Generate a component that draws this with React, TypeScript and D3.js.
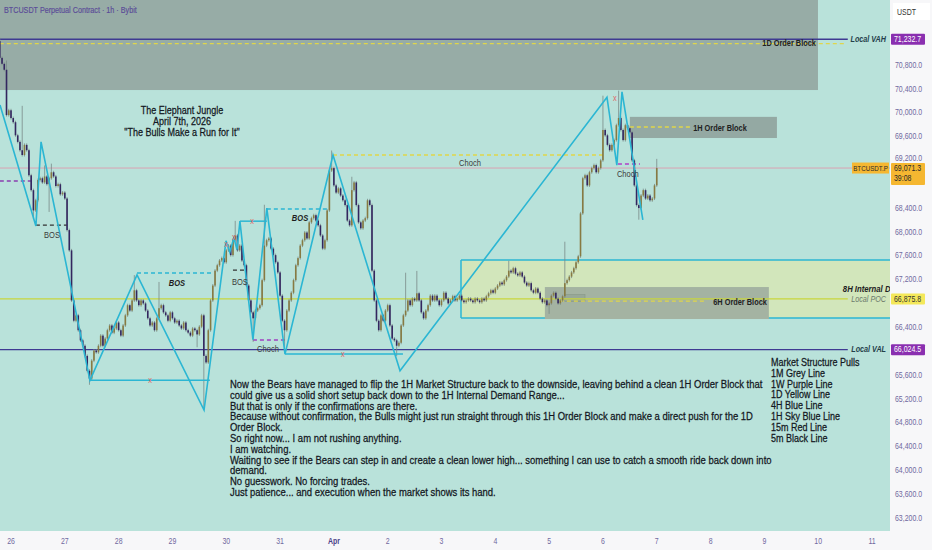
import React from "react";
import * as d3 from "d3";

const FONT = "'Liberation Sans',Arial,sans-serif";
const SX = 0.82; // condensed look

// ---------- data ----------
const START_UTC = Date.UTC(2026, 2, 25, 19);
const HOUR_MS = 3600000;
const FIRST_OPEN = 71200;
const CLOSES = [
  70920, 70820, 70720, 69960, 70040, 69910, 69840, 69620, 69510, 69370,
  69290, 69460, 69370, 68950, 68700, 68360, 68530, 68870, 68900, 68830,
  68930, 68800, 68900, 69000, 68930, 68770, 68800, 68630, 68660, 68560,
  68030, 67690, 66850, 66510, 66600, 66350, 66180, 66090, 65920, 65670,
  65540, 65840, 66010, 65980, 66090, 66260, 66090, 66210, 66350, 66430,
  66310, 66380, 66480, 66350, 66260, 66430, 66600, 66770, 66680, 66850,
  67020, 66850, 66770, 66850, 66800, 66680, 66550, 66430, 66480, 66350,
  66550, 66720, 66770, 66650, 66600, 66510, 66650, 66550, 66480, 66510,
  66430, 66380, 66480, 66350, 66310, 66260, 66380, 66350, 66280, 66410,
  66600, 65920, 65810, 66350, 66850, 67100, 67350, 67440, 67520, 67560,
  67490, 67690, 67770, 67610, 67860, 67940, 67690, 67770, 67520, 67440,
  67100, 66850, 66650, 66550, 66680, 66720, 66770, 67190, 67770, 67860,
  67890, 67720, 67610, 67490, 67320, 66930, 66510, 66350, 66680, 66850,
  66980, 67190, 67440, 67560, 67770, 67860, 67990, 67890, 68160, 68230,
  68280, 68190, 68110, 67940, 67720, 67860, 68360, 69030, 69070, 68780,
  68660, 68730, 68610, 68530, 68450, 68190, 68110, 68700, 68830, 68450,
  68160, 68060, 68190, 68230, 68530, 68450, 67350, 66850, 66510, 66350,
  66600, 66510, 66680, 66770, 66430, 66210, 66180, 66090, 66140, 66430,
  66600, 66680, 66850, 66770, 66880, 66850, 66970, 66850, 66650, 66550,
  66680, 66770, 66930, 66850, 66930, 66850, 66770, 66850, 66980, 66880,
  66800, 66850, 66920, 66850, 66880, 66930, 66850, 66820, 66850, 66880,
  66850, 66820, 66880, 66850, 66820, 66880, 66850, 66920, 66970, 67020,
  66980, 67050, 67100, 67150, 67120, 67190, 67250, 67350, 67320, 67390,
  67300, 67270, 67320, 67250, 67150, 67100, 67140, 67020, 66980, 67050,
  66980, 66880, 66820, 66850, 66770, 66800, 66930, 66980, 66880, 66800,
  66850, 66920, 67140, 67190, 67250, 67320, 67390, 67490, 67590, 68310,
  68900, 68950, 68780, 69000, 69070, 69120, 69000, 69070, 69200, 69710,
  69620, 69460, 69370, 69460, 69540, 69790, 69910, 69710, 69540, 69790,
  69740, 69670, 69200, 68780, 68450, 68400, 68610, 68700, 68560, 68610,
  68530, 68560, 68780, 69071.3,
];
const WICK_HIGHS: [number, number][] = [
  [0, 71232], [3, 70850], [10, 70090], [20, 69090], [23, 69120], [60, 67250],
  [71, 67135], [105, 68160], [118, 68430], [148, 69340], [157, 68900],
  [181, 67290], [186, 67320], [227, 67490], [252, 67810], [269, 70260],
  [276, 70345], [293, 69200],
];
const WICK_LOWS: [number, number][] = [
  [15, 68240], [22, 68360], [40, 65460], [88, 66090], [91, 65040], [113, 66180],
  [127, 66010], [177, 65940], [245, 66650], [285, 68230],
];

const PRICE_TICKS = [
  70800, 70400, 70000, 69600, 69200, 68800, 68400, 68000, 67600, 67200,
  66800, 66400, 66000, 65600, 65200, 64800, 64400, 64000, 63600, 63200,
];
const DAY_TICK_DATES: [number, number][] = [
  [2, 26], [2, 27], [2, 28], [2, 29], [2, 30], [2, 31], [3, 1], [3, 2], [3, 3],
  [3, 4], [3, 5], [3, 6], [3, 7], [3, 8], [3, 9], [3, 10], [3, 11],
];
const DAY_TICK_LABELS = [
  "26", "27", "28", "29", "30", "31", "Apr", "2", "3", "4", "5", "6", "7", "8", "9", "10", "11",
];

const LOCAL_VAH = 71232.7;
const LOCAL_POC = 66875.8;
const LOCAL_VAL = 66024.5;
const LAST_PRICE = 69071.3;
const YELLOW_1D = 71160;

// swing structure, [bar index, price]
const ZIGZAG: [number, number][] = [
  [0.1, 70130], [16.1, 68100], [18.4, 69510], [40.2, 65510], [61.2, 67280],
  [91.1, 65010], [100.9, 67850], [102.6, 67660], [104.4, 67900], [105.8, 67700],
  [107.1, 68180], [112.9, 66190], [119.1, 68400], [127.2, 65950], [148.6, 69290],
  [178.5, 65670], [270.8, 70260], [275.2, 69120], [277.5, 70350], [286.8, 68200],
];
const SWEPT_LEVELS: { from: number; to: number; price: number; mark: number }[] = [
  { from: 40.2, to: 93.7, price: 65510, mark: 67 },
  { from: 127.2, to: 179.8, price: 65950, mark: 153 },
  { from: 107.1, to: 119.1, price: 68180, mark: 112.5 },
];
const EXTRA_MARKS: [number, number][] = [[100.9, 67800], [104.4, 67915], [274.3, 70250]];

const DASHED: { from: number; to: number; price: number; color: string }[] = [
  { from: 0, to: 376.9, price: YELLOW_1D, color: "#e0d64a" },
  { from: 148.6, to: 269, price: 69290, color: "#e0d64a" },
  { from: 281, to: 307.8, price: 69760, color: "#e0d64a" },
  { from: 249.8, to: 314.5, price: 66840, color: "#e0d64a" },
  { from: 61.2, to: 95.1, price: 67310, color: "#2bb6d3" },
  { from: 119.1, to: 147.2, price: 68384, color: "#2bb6d3" },
  { from: 0, to: 14.8, price: 68854, color: "#8a3fb0" },
  { from: 112.9, to: 127.2, price: 66186, color: "#a040c0" },
  { from: 275.7, to: 285.5, price: 69139, color: "#b040c8" },
  { from: 16.1, to: 30, price: 68115, color: "#333333" },
  { from: 104, to: 109.3, price: 67360, color: "#333333" },
];

const STRUCT_LABELS: { text: string; at: number; price: number; bold: boolean }[] = [
  { text: "BOS", at: 23.3, price: 67948, bold: false },
  { text: "BOS", at: 79, price: 67142, bold: true },
  { text: "BOS", at: 107.1, price: 67159, bold: false },
  { text: "BOS", at: 133.9, price: 68233, bold: true },
  { text: "Choch", at: 209.7, price: 69156, bold: false },
  { text: "Choch", at: 119.6, price: 66035, bold: false },
  { text: "Choch", at: 280.1, price: 68971, bold: false },
];

const TITLE_LINES = ["The Elephant Jungle", "April 7th, 2026", "\"The Bulls Make a Run for It\""];
const NOTE_LINES = [
  "Now the Bears have managed to flip the 1H Market Structure back to the downside, leaving behind a clean 1H Order Block that",
  "could give us a solid short setup back down to the 1H Internal Demand Range...",
  "But that is only if the confirmations are there.",
  "Because without confirmation, the Bulls might just run straight through this 1H Order Block and make a direct push for the 1D",
  "Order Block.",
  "So right now... I am not rushing anything.",
  "I am watching.",
  "Waiting to see if the Bears can step in and create a clean lower high... something I can use to catch a smooth ride back down into",
  "demand.",
  "No guesswork. No forcing trades.",
  "Just patience... and execution when the market shows its hand.",
];
const LEGEND_LINES = [
  "Market Structure Pulls", "1M Grey Line", "1W Purple Line", "1D Yellow Line",
  "4H Blue Line", "1H Sky Blue Line", "15m Red Line", "5m Black Line",
];

// ---------- layout ----------
const W = 932;
const H = 550;
const PLOT_R = 890;
const PLOT_B = 531;

const x = d3
  .scaleUtc()
  .domain([new Date(Date.UTC(2026, 2, 26)), new Date(Date.UTC(2026, 3, 11))])
  .range([11, 872]);
const y = d3.scaleLinear().domain([70800, 63200]).range([65, 518]);
const bx = (i: number) => x(new Date(START_UTC + i * HOUR_MS));

const fmt = d3.format(",.1f");

type TProps = {
  x: number;
  y: number;
  size: number;
  anchor?: "start" | "middle" | "end";
  weight?: string;
  italic?: boolean;
  fill?: string;
  mid?: boolean;
  stroke?: number;
  sx?: number;
  children: React.ReactNode;
};
function T({ x: tx, y: ty, size, anchor = "start", weight = "normal", italic = false, fill = "#131722", mid = false, stroke = 0, sx = SX, children }: TProps) {
  return (
    <text
      transform={`translate(${tx},${ty}) scale(${sx},1)`}
      textAnchor={anchor}
      dominantBaseline={mid ? "central" : "auto"}
      fontSize={size}
      fontWeight={weight}
      fontStyle={italic ? "italic" : "normal"}
      fill={fill}
      stroke={stroke ? fill : "none"}
      strokeWidth={stroke}
      fontFamily={FONT}
    >
      {children}
    </text>
  );
}

export default function App() {
  const hiMap = new Map(WICK_HIGHS);
  const loMap = new Map(WICK_LOWS);
  const candles = CLOSES.map((c, i) => {
    const o = i === 0 ? FIRST_OPEN : CLOSES[i - 1];
    const h = Math.max(o, c, hiMap.get(i) ?? -Infinity);
    const l = Math.min(o, c, loMap.get(i) ?? Infinity);
    return { i, o, c, h, l };
  });
  const zig = d3
    .line<[number, number]>()
    .x((d) => bx(d[0]))
    .y((d) => y(d[1]))(ZIGZAG);

  const cyan = "#2bb6d3";
  const boxTop = 72000;
  const levelPrices = [LOCAL_VAH, LOCAL_POC, LOCAL_VAL];
  const lastTop = y(LAST_PRICE) - 5;
  const lastBot = y(LAST_PRICE) + 17;
  const visibleTicks = PRICE_TICKS.filter(
    (p) => levelPrices.every((lp) => Math.abs(y(p) - y(lp)) > 6) && !(y(p) > lastTop && y(p) < lastBot + 4)
  );

  const priceBox = (p: number, fill: string, color: string) => (
    <g key={"pb" + p}>
      <rect x={891} y={y(p) - 5.5} width={34} height={11} fill={fill} rx={1} />
      <T x={894} y={y(p)} size={8.5} fill={color} mid>{fmt(p)}</T>
    </g>
  );

  return (
    <svg width={W} height={H} style={{ position: "absolute", left: 0, top: 0 }} fontFamily={FONT}>
      <defs>
        <clipPath id="plot">
          <rect x={0} y={0} width={PLOT_R} height={PLOT_B} />
        </clipPath>
      </defs>
      <rect x={0} y={0} width={W} height={H} fill="#b9e2da" />
      <g clipPath="url(#plot)">
        {/* 1D order block */}
        <rect x={bx(0) - 2} y={y(boxTop)} width={bx(364.9) - bx(0) + 2} height={y(70380) - y(boxTop)} fill="#97aca6" />
        {/* 8H internal demand */}
        <rect x={bx(205.7)} y={y(67530)} width={PLOT_R - bx(205.7) + 10} height={y(66555) - y(67530)} fill="#d2e6bb" />
        <line x1={bx(205.7)} x2={PLOT_R} y1={y(67530)} y2={y(67530)} stroke={cyan} strokeWidth={1.5} />
        <line x1={bx(205.7)} x2={PLOT_R} y1={y(66555)} y2={y(66555)} stroke={cyan} strokeWidth={1.5} />
        <line x1={bx(205.7)} x2={bx(205.7)} y1={y(67530)} y2={y(66555)} stroke={cyan} strokeWidth={1.5} />
        {/* 6H order block */}
        <rect x={bx(243.1)} y={y(67075)} width={bx(343) - bx(243.1)} height={y(66555) - y(67075) + 1} fill="#a4b3a2" />
        <rect x={bx(252)} y={y(66950)} width={bx(261) - bx(252)} height={y(66830) - y(66950)} fill="#98a898" stroke="#889888" strokeWidth={0.6} />
        {/* 1H order block */}
        <rect x={bx(281)} y={y(69930)} width={bx(346.6) - bx(281)} height={y(69575) - y(69930)} fill="#94a9a3" />

        {/* levels */}
        <line x1={0} x2={PLOT_R} y1={y(LAST_PRICE)} y2={y(LAST_PRICE)} stroke="#d9a3b2" strokeWidth={1} />
        <line x1={0} x2={bx(378.2)} y1={y(LOCAL_VAH)} y2={y(LOCAL_VAH)} stroke="#3f3a92" strokeWidth={1.4} />
        <line x1={0} x2={bx(378.2)} y1={y(LOCAL_POC)} y2={y(LOCAL_POC)} stroke="#c9d63c" strokeWidth={1.4} />
        <line x1={0} x2={bx(378.2)} y1={y(LOCAL_VAL)} y2={y(LOCAL_VAL)} stroke="#3f3a92" strokeWidth={1.4} />
        {DASHED.map((d, k) => (
          <line key={"d" + k} x1={bx(d.from)} x2={bx(d.to)} y1={y(d.price)} y2={y(d.price)} stroke={d.color} strokeWidth={1.3} strokeDasharray="4 3" />
        ))}

        {/* candles */}
        {candles.map((d) => {
          const cx = bx(d.i);
          const up = d.c >= d.o;
          const top = y(Math.max(d.o, d.c));
          const bot = y(Math.min(d.o, d.c));
          return (
            <g key={"c" + d.i}>
              <line x1={cx} x2={cx} y1={y(d.h) - 1.5} y2={y(d.l) + 1.5} stroke="#7a8a88" strokeWidth={0.8} />
              <rect x={cx - 0.8} y={top} width={1.6} height={Math.max(0.9, bot - top)} fill={up ? "#877a42" : "#33265f"} />
            </g>
          );
        })}

        {/* structure */}
        <path d={zig ?? ""} fill="none" stroke={cyan} strokeWidth={1.6} strokeLinejoin="miter" />
        {SWEPT_LEVELS.map((s, k) => (
          <g key={"s" + k}>
            <line x1={bx(s.from)} x2={bx(s.to)} y1={y(s.price)} y2={y(s.price)} stroke={cyan} strokeWidth={1.5} />
            <T x={bx(s.mark)} y={y(s.price)} size={9} anchor="middle" fill="#e06565" mid>x</T>
          </g>
        ))}
        {EXTRA_MARKS.map((m, k) => (
          <T key={"m" + k} x={bx(m[0])} y={y(m[1])} size={9} anchor="middle" fill="#e06565" mid>x</T>
        ))}
        {STRUCT_LABELS.map((l, k) => (
          <T key={"l" + k} x={bx(l.at)} y={y(l.price)} size={9.2} anchor="middle" mid
            weight={l.bold ? "bold" : "normal"} italic={l.bold} fill={l.bold ? "#1d1d1d" : "#3a3a3a"}>
            {l.text}
          </T>
        ))}

        {/* block labels */}
        <T x={bx(364)} y={y(71166)} size={9} anchor="end" weight="bold" fill="#1e2222" mid>1D Order Block</T>
        <T x={bx(321.2)} y={y(69743)} size={9} anchor="middle" weight="bold" fill="#1e2222" mid>1H Order Block</T>
        <T x={bx(342.1)} y={y(66823)} size={9} anchor="end" weight="bold" fill="#1e2222" mid>6H Order Block</T>
        <T x={bx(376)} y={y(67041)} size={9} sx={0.86} weight="bold" italic fill="#1e2222" mid>8H Internal Demand</T>
        <T x={886} y={y(LOCAL_VAH)} size={8.8} anchor="end" weight="bold" italic fill="#24404a" mid>Local VAH</T>
        <T x={886} y={y(LOCAL_POC)} size={8.8} anchor="end" italic fill="#6c7a6c" mid>Local POC</T>
        <T x={886} y={y(LOCAL_VAL)} size={8.8} anchor="end" weight="bold" italic fill="#24404a" mid>Local VAL</T>
        <rect x={852} y={y(LAST_PRICE) - 5.5} width={37} height={11} fill="#f5b731" />
        <T x={870.5} y={y(LAST_PRICE)} size={7.6} anchor="middle" fill="#2a2a2a" mid>BTCUSDT.P</T>

        {/* texts */}
        {TITLE_LINES.map((t, k) => (
          <T key={"t" + k} x={182} y={114 + k * 10.8} size={11} anchor="middle" stroke={0.25}>{t}</T>
        ))}
        {NOTE_LINES.map((t, k) => (
          <T key={"n" + k} x={230} y={388 + k * 10.8} size={11} sx={0.862} stroke={0.25}>{t}</T>
        ))}
        {LEGEND_LINES.map((t, k) => (
          <T key={"g" + k} x={771} y={366 + k * 10.8} size={11} stroke={0.25}>{t}</T>
        ))}
        <T x={4} y={13} size={8.8} fill="#5a4b98" stroke={0.15}>BTCUSDT Perpetual Contract · 1h · Bybit</T>
      </g>

      {/* axes */}
      <rect x={PLOT_R} y={0} width={W - PLOT_R} height={H} fill="#f7f7f9" />
      <rect x={0} y={PLOT_B} width={W} height={H - PLOT_B} fill="#f7f7f9" />
      <rect x={893} y={3} width={37} height={17} fill="#ffffff" />
      <T x={897} y={12} size={8.5} fill="#333" mid>USDT</T>
      {visibleTicks.map((p) => (
        <T key={"pt" + p} x={895} y={y(p) - (p === 69200 ? 2 : 0)} size={8.5} fill="#7069a0" mid>{fmt(p)}</T>
      ))}
      {DAY_TICK_DATES.map((d, k) => (
        <T key={"dt" + k} x={x(new Date(Date.UTC(2026, d[0], d[1])))} y={541} size={8.5} anchor="middle" mid
          weight={DAY_TICK_LABELS[k] === "Apr" ? "bold" : "normal"} fill={DAY_TICK_LABELS[k] === "Apr" ? "#4b3f88" : "#7069a0"}>
          {DAY_TICK_LABELS[k]}
        </T>
      ))}
      {priceBox(LOCAL_VAH, "#8a2fb0", "#ffffff")}
      {priceBox(LOCAL_POC, "#f4e85a", "#333")}
      {priceBox(LOCAL_VAL, "#8a2fb0", "#ffffff")}
      <rect x={891} y={lastTop} width={34} height={lastBot - lastTop} fill="#f5b731" rx={1} />
      <T x={894} y={y(LAST_PRICE) + 0.5} size={8.5} fill="#2a2a2a" mid>{fmt(LAST_PRICE)}</T>
      <T x={894} y={y(LAST_PRICE) + 10.5} size={8.5} fill="#2a2a2a" mid>39:08</T>
    </svg>
  );
}
